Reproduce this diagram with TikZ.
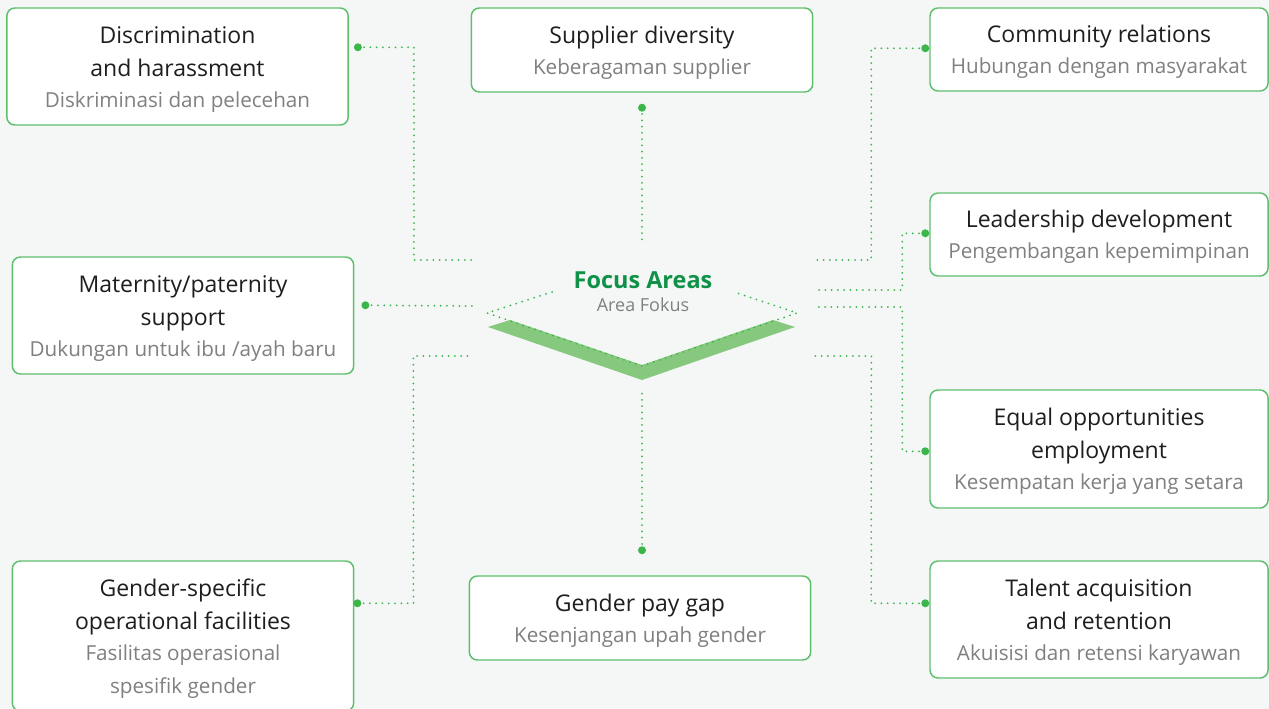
\documentclass[tikz,border=0pt]{standalone}
\usepackage{fontspec}
\setmainfont{Open Sans}
\usetikzlibrary{positioning,calc}

\definecolor{bggray}{HTML}{F5F7F6}
\definecolor{boxgreen}{HTML}{5EBF6C}
\definecolor{dotgreen}{HTML}{3CB64B}
\definecolor{bandgreen}{HTML}{86C97E}
\definecolor{focusgreen}{HTML}{0F9247}
\definecolor{subgray}{HTML}{808080}
\definecolor{titleblack}{HTML}{1E1E1E}

\newcommand{\idtext}[1]{{\color{subgray}\fontsize{15.5}{24.75}\selectfont #1}}
\newcommand{\lineup}{\rule{0pt}{16.8pt}}

\begin{document}
\begin{tikzpicture}[x=0.75pt, y=-0.75pt, every node/.style={inner sep=2pt},
    topic/.style={draw=boxgreen, line width=1.1pt, fill=white, rounded corners=6pt,
        align=center, text=titleblack, font=\fontsize{17.25}{24.75}\selectfont,
        minimum width=256pt},
    topicr/.style={topic, minimum width=253.5pt},
    dotline/.style={dotgreen, line width=1.5pt, line cap=round, dash pattern=on 0pt off 4.7pt},
    pin/.style={fill=dotgreen}]
    % background
    \fill[bggray] (0,0) rectangle (1269,709);
    \useasboundingbox (0,0) rectangle (1269,709);

    % centre
    \fill[bandgreen] (488,327) -- (510,320) -- (642,365) -- (773,320) -- (795,327) -- (642,380) -- cycle;
    \draw[dotline] (552,292) -- (487,313) -- (642,366) -- (797,313) -- (737,293);
    \node[text=focusgreen, font=\fontsize{17.6}{20}\selectfont\bfseries] (focus) at (643,280) {Focus Areas};
    \node[text=subgray, font=\fontsize{13.5}{16}\selectfont] (fokus) at (643,305) {Area Fokus};

    % topic boxes
    \node[topic, minimum height=87.75pt] (disc) at (177.5,66.5)
        {\lineup Discrimination\\and harassment\\[-1.5pt]\idtext{Diskriminasi dan pelecehan}};
    \node[topic, minimum height=63pt] (supp) at (642,50)
        {\lineup Supplier diversity\\[-1.5pt]\idtext{Keberagaman supplier}};
    \node[topicr, minimum height=62.25pt] (comm) at (1099,49.5)
        {\lineup Community relations\\[-1.5pt]\idtext{Hubungan dengan masyarakat}};
    \node[topicr, minimum height=62.25pt] (lead) at (1099,234.5)
        {\lineup Leadership development\\[-1.5pt]\idtext{Pengembangan kepemimpinan}};
    \node[topic, minimum height=87.75pt] (mat) at (183,315.5)
        {\lineup Maternity/paternity\\support\\[-1.5pt]\idtext{Dukungan untuk ibu /ayah baru}};
    \node[topicr, minimum height=88.5pt] (equal) at (1099,449)
        {\lineup Equal opportunities\\employment\\[-1.5pt]\idtext{Kesempatan kerja yang setara}};
    \node[topic, minimum height=112.5pt] (gspec) at (183,636)
        {\lineup Gender-specific\\operational facilities\\[-1.5pt]\idtext{Fasilitas operasional}\\\idtext{spesifik gender}};
    \node[topic, minimum height=63pt] (gap) at (640,618)
        {\lineup Gender pay gap\\[-1.5pt]\idtext{Kesenjangan upah gender}};
    \node[topicr, minimum height=87.75pt] (talent) at (1099,619.5)
        {\lineup Talent acquisition\\and retention\\[-1.5pt]\idtext{Akuisisi dan retensi karyawan}};

    % pins next to the boxes
    \coordinate (disc-pin)   at ($(disc.north east)+(9,40)$);
    \coordinate (supp-pin)   at ($(supp.south)+(0,15)$);
    \coordinate (comm-pin)   at ($(comm.north west)+(-4,41)$);
    \coordinate (lead-pin)   at ($(lead.north west)+(-4,41)$);
    \coordinate (mat-pin)    at ($(mat.north east)+(11,49)$);
    \coordinate (equal-pin)  at ($(equal.north west)+(-4,62)$);
    \coordinate (gspec-pin)  at ($(gspec.north east)+(3,43)$);
    \coordinate (gap-pin)    at ($(gap.north)+(2,-25)$);
    \coordinate (talent-pin) at ($(talent.north west)+(-4,43)$);

    % ends near the centre
    \coordinate (w1) at (472,260);
    \coordinate (w2) at (473,306);
    \coordinate (w3) at (472,356);
    \coordinate (n1) at (642,243);
    \coordinate (s1) at (642,393);
    \coordinate (e1) at (814,260);
    \coordinate (e2) at (813,290);
    \coordinate (e3) at (813,307);
    \coordinate (e4) at (813,356);

    % connectors
    \draw[dotline] (disc-pin) -- ++(56,0) |- (w1);
    \draw[dotline] (supp-pin) -- (n1);
    \draw[dotline] (comm-pin) -- ++(-54,0) |- (e1);
    \draw[dotline] (lead-pin) -- ++(-23,0) |- (e2);
    \draw[dotline] (mat-pin) -- (w2);
    \draw[dotline] (equal-pin) -- ++(-23,0) |- (e3);
    \draw[dotline] (gspec-pin) -- ++(56,0) |- (w3);
    \draw[dotline] (gap-pin) -- (s1);
    \draw[dotline] (talent-pin) -- ++(-54,0) |- (e4);

    % pin dots
    \foreach \p in {disc,supp,comm,lead,mat,equal,gspec,gap,talent}
        \fill[pin] (\p-pin) circle (3pt);
\end{tikzpicture}
\end{document}
